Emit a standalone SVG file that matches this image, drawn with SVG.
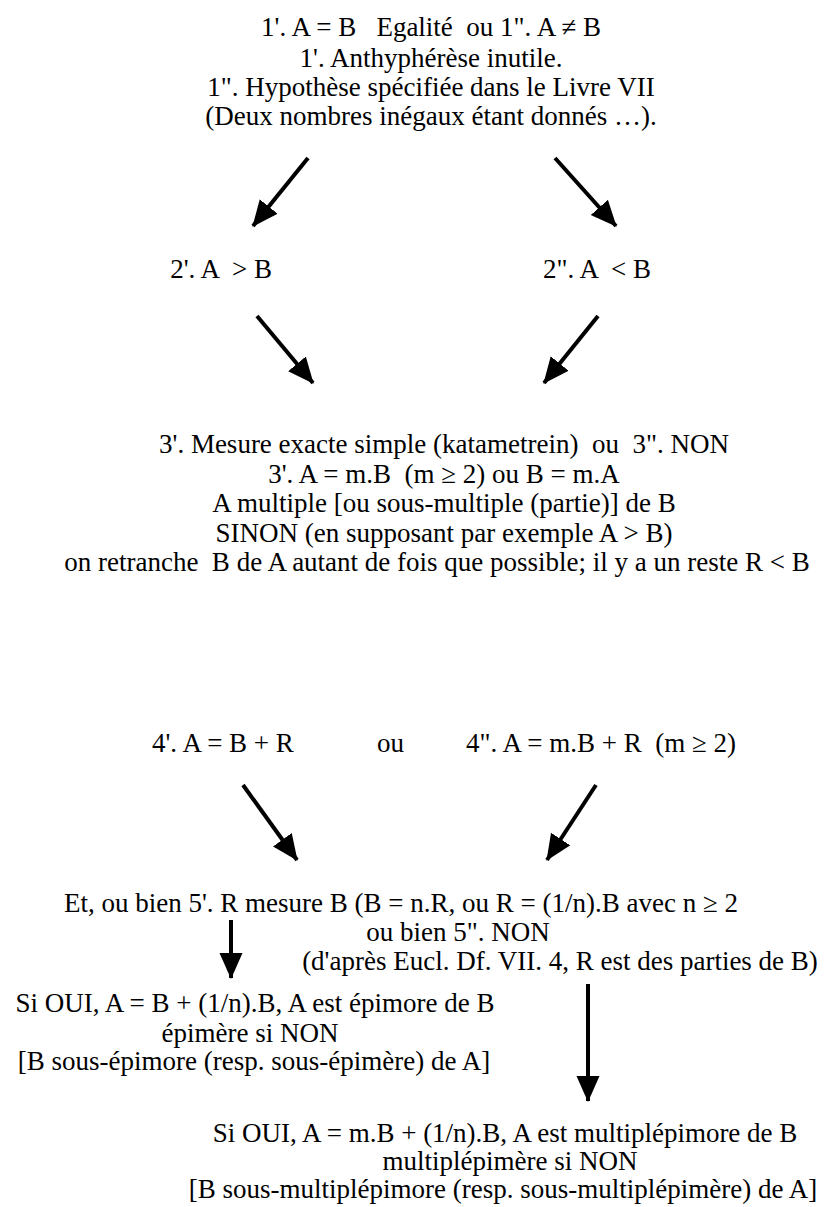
<svg xmlns="http://www.w3.org/2000/svg" width="825" height="1207" viewBox="0 0 825 1207">
<defs>
<style>
text{font-family:"Liberation Serif","Times New Roman",serif;font-size:27px;fill:#000;white-space:pre}
.m{text-anchor:middle}
.e{text-anchor:end}
.edge{stroke:#000;stroke-width:4;fill:none;marker-end:url(#ah)}
</style>
<marker id="ah" markerUnits="userSpaceOnUse" markerWidth="27" markerHeight="24" refX="25" refY="11.5" orient="auto" viewBox="0 0 27 23">
<path d="M0,0 L26,11.5 L0,23 z" fill="#000"/>
</marker>
</defs>
<rect width="825" height="1207" fill="#fff"/>
<g id="n1">
<text class="m" x="431" y="36" xml:space="preserve">1'. A = B   Egalité  ou 1". A ≠ B</text>
<text class="m" x="431" y="67">1'. Anthyphérèse inutile.</text>
<text class="m" x="431" y="96">1". Hypothèse spécifiée dans le Livre VII</text>
<text class="m" x="431" y="125">(Deux nombres inégaux étant donnés …).</text>
</g>
<g id="n2a"><text class="e" x="272" y="278" xml:space="preserve">2'. A  &gt; B</text></g>
<g id="n2b"><text x="543" y="278" xml:space="preserve">2". A  &lt; B</text></g>
<g id="n3">
<text class="m" x="444" y="453" xml:space="preserve">3'. Mesure exacte simple (katametrein)  ou  3". NON</text>
<text class="m" x="444" y="483" xml:space="preserve">3'. A = m.B  (m ≥ 2) ou B = m.A</text>
<text class="m" x="444" y="512">A multiple [ou sous-multiple (partie)] de B</text>
<text class="m" x="444" y="542">SINON (en supposant par exemple A &gt; B)</text>
<text class="m" x="437" y="571" xml:space="preserve">on retranche  B de A autant de fois que possible; il y a un reste R &lt; B</text>
</g>
<g id="n4a"><text x="152" y="752">4'. A = B + R</text></g>
<g id="n4ou"><text x="377" y="752">ou</text></g>
<g id="n4b"><text x="466" y="752" xml:space="preserve">4". A = m.B + R  (m ≥ 2)</text></g>
<g id="n5">
<text x="64" y="912">Et, ou bien 5'. R mesure B (B = n.R, ou R = (1/n).B avec n ≥ 2</text>
<text class="m" x="458" y="941">ou bien 5". NON</text>
<text class="m" x="560" y="970">(d'après Eucl. Df. VII. 4, R est des parties de B)</text>
</g>
<g id="n6a">
<text class="m" x="255" y="1012">Si OUI, A = B + (1/n).B, A est épimore de B</text>
<text class="m" x="250" y="1042">épimère si NON</text>
<text class="m" x="254" y="1070">[B sous-épimore (resp. sous-épimère) de A]</text>
</g>
<g id="n6b">
<text class="m" x="505" y="1142">Si OUI, A = m.B + (1/n).B, A est multiplépimore de B</text>
<text class="m" x="510" y="1170">multiplépimère si NON</text>
<text class="m" x="503" y="1198">[B sous-multiplépimore (resp. sous-multiplépimère) de A]</text>
</g>
<g id="connectors">
<line class="edge" x1="308" y1="158" x2="253" y2="226"/>
<line class="edge" x1="555" y1="158" x2="616" y2="226"/>
<line class="edge" x1="257" y1="316" x2="313" y2="383"/>
<line class="edge" x1="598" y1="316" x2="544" y2="383"/>
<line class="edge" x1="243" y1="785" x2="297" y2="860"/>
<line class="edge" x1="596" y1="785" x2="547" y2="860"/>
<line class="edge" x1="231" y1="920" x2="231" y2="978"/>
<line class="edge" x1="588" y1="984" x2="588" y2="1101"/>
</g>
</svg>
